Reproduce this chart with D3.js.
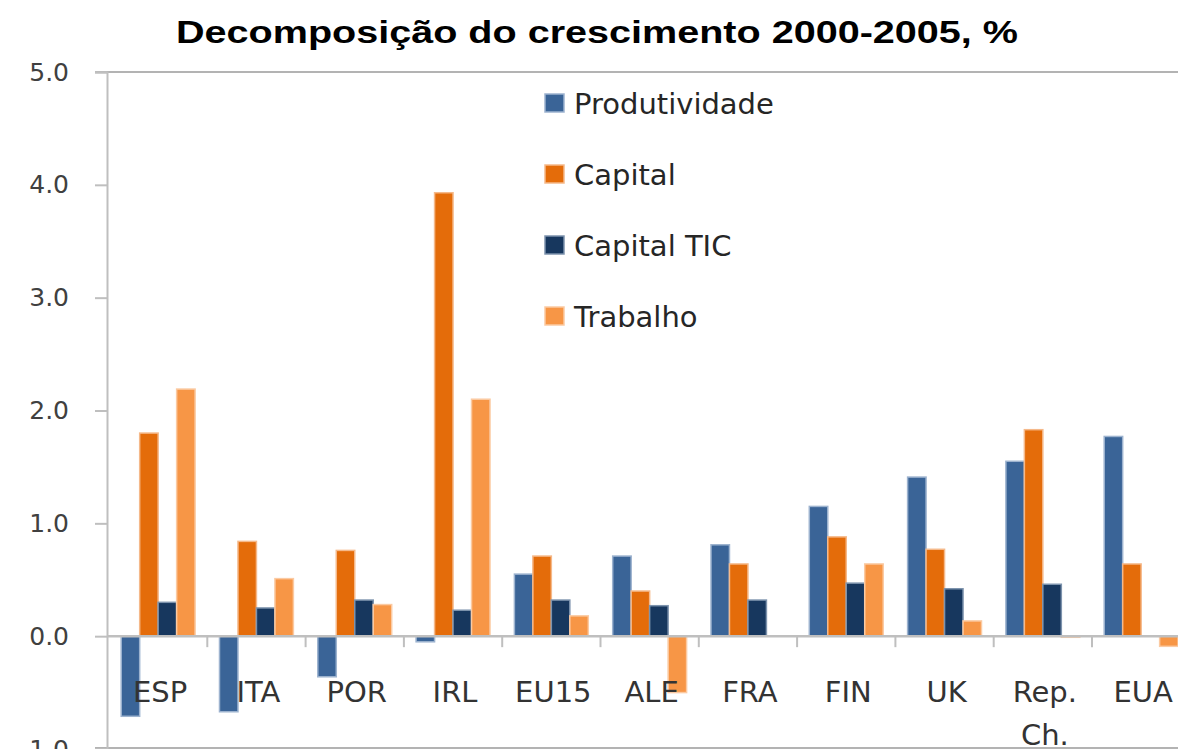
<!DOCTYPE html>
<html>
<head>
<meta charset="utf-8">
<script src="https://cdn.jsdelivr.net/npm/d3@7"></script>
<style>
  body { margin: 0; background: #fff; }
  svg { display: block; }
</style>
</head>
<body>
<div id="chart"></div>
<script>
// data
var categories = ["ESP", "ITA", "POR", "IRL", "EU15", "ALE", "FRA", "FIN", "UK", "Rep. Ch.", "EUA"];
var series = ["Produtividade", "Capital", "Capital TIC", "Trabalho"];
var produtividade = [-0.71, -0.67, -0.36, -0.05, 0.55, 0.71, 0.81, 1.15, 1.41, 1.55, 1.77];
var capital      = [1.80, 0.84, 0.76, 3.93, 0.71, 0.40, 0.64, 0.88, 0.77, 1.83, 0.64];
var capitalTIC   = [0.30, 0.25, 0.32, 0.23, 0.32, 0.27, 0.32, 0.47, 0.42, 0.46, 0];
var trabalho     = [2.19, 0.51, 0.28, 2.10, 0.18, -0.50, 0, 0.64, 0.135, -0.01, -0.09];
var yTicks = [-1, 0, 1, 2, 3, 4, 5];
var colors = ["#3a6497", "#e46c0a", "#17375e", "#f79646"];
var strokes = ["#9db3cf", "#f5b98a", "#7d93ad", "#fbcaa2"];

var values = [produtividade, capital, capitalTIC, trabalho];
var rows = categories.map(function(c, i) {
  return { cat: c, vals: series.map(function(s, j) { return { s: s, j: j, v: values[j][i] }; }) };
});

var width = 1178, height = 749;
var svg = d3.select("#chart").append("svg")
  .attr("width", width)
  .attr("height", height);

// plot area runs past the right edge, as in the picture
var plotLeft = 107, plotRight = 1190, plotTop = 72, plotBottom = 749;

var x0 = d3.scaleBand()
  .domain(categories)
  .range([109, 109 + 98.3 * categories.length])
  .padding(0);

var x1 = d3.scaleBand()
  .domain(series)
  .range([0, x0.bandwidth()])
  .paddingInner(0)
  .paddingOuter(0.66);

var y = d3.scaleLinear()
  .domain([-1, 5])
  .range([plotBottom, plotTop]);

// title
svg.append("text")
  .attr("x", 597)
  .attr("y", 43)
  .attr("text-anchor", "middle")
  .attr("font-family", "Liberation Sans, Arial, sans-serif")
  .attr("font-weight", "bold")
  .attr("font-size", 32)
  .attr("textLength", 842)
  .attr("lengthAdjust", "spacingAndGlyphs")
  .attr("fill", "#000")
  .text("Decomposição do crescimento  2000-2005, %");

// plot border top / bottom
svg.append("line")
  .attr("x1", 95).attr("x2", width)
  .attr("y1", y(5)).attr("y2", y(5))
  .attr("stroke", "#b3b3b3").attr("stroke-width", 2);
svg.append("line")
  .attr("x1", 95).attr("x2", width)
  .attr("y1", y(-1) - 1).attr("y2", y(-1) - 1)
  .attr("stroke", "#b3b3b3").attr("stroke-width", 2);

// y axis
var yAxis = svg.append("g")
  .attr("transform", "translate(" + plotLeft + ",0)")
  .call(d3.axisLeft(y).tickValues(yTicks).tickSize(12).tickPadding(26).tickFormat(d3.format(".1f")));
yAxis.select(".domain").attr("stroke", "#bfbfbf").attr("stroke-width", 2);
yAxis.selectAll(".tick line").attr("stroke", "#bfbfbf").attr("stroke-width", 2);
yAxis.selectAll(".tick text")
  .attr("font-family", "DejaVu Sans, Verdana, sans-serif")
  .attr("font-size", 25)
  .attr("fill", "#404040");

// bars
var groups = svg.selectAll(".group")
  .data(rows)
  .enter().append("g")
  .attr("class", "group")
  .attr("transform", function(d) { return "translate(" + x0(d.cat) + ",0)"; });

groups.selectAll("rect")
  .data(function(d) { return d.vals; })
  .enter().append("rect")
  .attr("x", function(d) { return x1(d.s); })
  .attr("y", function(d) { return y(Math.max(0, d.v)); })
  .attr("width", x1.bandwidth())
  .attr("height", function(d) { return Math.abs(y(d.v) - y(0)); })
  .attr("fill", function(d) { return colors[d.j]; })
  .attr("stroke", function(d) { return strokes[d.j]; })
  .attr("stroke-width", 1.5);

// zero line and category ticks
svg.append("line")
  .attr("x1", plotLeft).attr("x2", width)
  .attr("y1", y(0)).attr("y2", y(0))
  .attr("stroke", "#bfbfbf").attr("stroke-width", 2.5);

svg.selectAll(".ctick")
  .data(categories.slice(1))
  .enter().append("line")
  .attr("class", "ctick")
  .attr("x1", function(d) { return x0(d); })
  .attr("x2", function(d) { return x0(d); })
  .attr("y1", y(0))
  .attr("y2", y(0) + 11)
  .attr("stroke", "#bfbfbf")
  .attr("stroke-width", 2);

// category labels
var labels = svg.selectAll(".clabel")
  .data(categories)
  .enter().append("text")
  .attr("class", "clabel")
  .attr("x", function(d) { return x0(d) + x0.bandwidth() / 2 + 2; })
  .attr("y", 702)
  .attr("text-anchor", "middle")
  .attr("font-family", "DejaVu Sans, Verdana, sans-serif")
  .attr("font-size", 29)
  .attr("fill", "#333");

labels.each(function(d) {
  var parts = d.split(" ");
  var t = d3.select(this);
  parts.forEach(function(p, i) {
    t.append("tspan")
      .attr("x", t.attr("x"))
      .attr("dy", i === 0 ? 0 : 43)
      .text(p);
  });
});

// legend
var legend = svg.selectAll(".legend")
  .data(series)
  .enter().append("g")
  .attr("class", "legend")
  .attr("transform", function(d, i) { return "translate(545," + (103 + i * 71) + ")"; });

legend.append("rect")
  .attr("x", 0)
  .attr("y", -9)
  .attr("width", 19)
  .attr("height", 18)
  .attr("fill", function(d, i) { return colors[i]; })
  .attr("stroke", function(d, i) { return strokes[i]; })
  .attr("stroke-width", 1.5);

legend.append("text")
  .attr("x", 29)
  .attr("y", 11)
  .attr("font-family", "DejaVu Sans, Verdana, sans-serif")
  .attr("font-size", 29)
  .attr("fill", "#262626")
  .text(function(d) { return d; });
</script>
</body>
</html>
